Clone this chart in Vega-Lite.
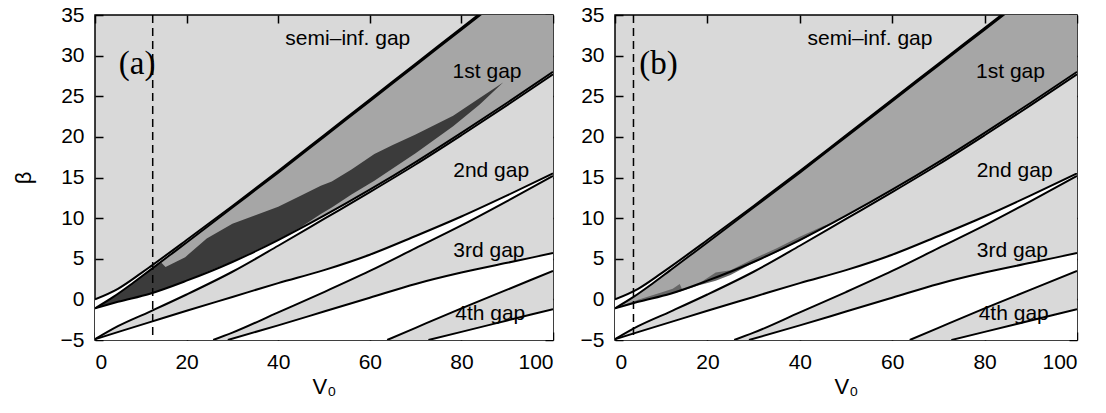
{
  "$schema": "https://vega.github.io/schema/vega-lite/v6.json",
  "background": "white",
  "padding": {"left": 11, "right": 4, "top": 3, "bottom": 3},
  "spacing": 62,
  "bounds": "flush",
  "datasets": {
    "bands": [
      {"line": "A", "V0": 0, "beta": 0}, {"line": "A", "V0": 5, "beta": 1.3}, {"line": "A", "V0": 10, "beta": 3.2}, {"line": "A", "V0": 12, "beta": 4.0}, {"line": "A", "V0": 20, "beta": 7.3}, {"line": "A", "V0": 30, "beta": 11.5}, {"line": "A", "V0": 40, "beta": 15.8}, {"line": "A", "V0": 50, "beta": 20.2}, {"line": "A", "V0": 60, "beta": 24.6}, {"line": "A", "V0": 70, "beta": 29.0}, {"line": "A", "V0": 80, "beta": 33.4}, {"line": "A", "V0": 90, "beta": 37.8}, {"line": "A", "V0": 100, "beta": 42.3},
      {"line": "B", "V0": 0, "beta": -1.1}, {"line": "B", "V0": 4, "beta": 0.3}, {"line": "B", "V0": 8, "beta": 1.9}, {"line": "B", "V0": 12, "beta": 3.6}, {"line": "B", "V0": 16, "beta": 5.3}, {"line": "B", "V0": 20, "beta": 7.0}, {"line": "B", "V0": 30, "beta": 11.3}, {"line": "B", "V0": 40, "beta": 15.6}, {"line": "B", "V0": 50, "beta": 20.0}, {"line": "B", "V0": 60, "beta": 24.4}, {"line": "B", "V0": 70, "beta": 28.8}, {"line": "B", "V0": 80, "beta": 33.2}, {"line": "B", "V0": 90, "beta": 37.6}, {"line": "B", "V0": 100, "beta": 42.1},
      {"line": "C", "V0": 0, "beta": -1.1}, {"line": "C", "V0": 5, "beta": -0.3}, {"line": "C", "V0": 12, "beta": 0.7}, {"line": "C", "V0": 20, "beta": 2.3}, {"line": "C", "V0": 30, "beta": 4.6}, {"line": "C", "V0": 40, "beta": 7.3}, {"line": "C", "V0": 50, "beta": 10.3}, {"line": "C", "V0": 60, "beta": 13.5}, {"line": "C", "V0": 70, "beta": 16.9}, {"line": "C", "V0": 80, "beta": 20.5}, {"line": "C", "V0": 90, "beta": 24.2}, {"line": "C", "V0": 100, "beta": 28.0},
      {"line": "D", "V0": 0, "beta": -4.9}, {"line": "D", "V0": 5, "beta": -3.3}, {"line": "D", "V0": 12, "beta": -1.5}, {"line": "D", "V0": 20, "beta": 0.6}, {"line": "D", "V0": 30, "beta": 3.4}, {"line": "D", "V0": 40, "beta": 6.6}, {"line": "D", "V0": 50, "beta": 9.9}, {"line": "D", "V0": 60, "beta": 13.2}, {"line": "D", "V0": 70, "beta": 16.6}, {"line": "D", "V0": 80, "beta": 20.2}, {"line": "D", "V0": 90, "beta": 23.9}, {"line": "D", "V0": 100, "beta": 27.7},
      {"line": "E", "V0": 0, "beta": -4.9}, {"line": "E", "V0": 12, "beta": -2.8}, {"line": "E", "V0": 20, "beta": -1.4}, {"line": "E", "V0": 30, "beta": 0.3}, {"line": "E", "V0": 40, "beta": 2.0}, {"line": "E", "V0": 50, "beta": 3.6}, {"line": "E", "V0": 60, "beta": 5.5}, {"line": "E", "V0": 70, "beta": 7.8}, {"line": "E", "V0": 80, "beta": 10.2}, {"line": "E", "V0": 90, "beta": 12.8}, {"line": "E", "V0": 100, "beta": 15.5},
      {"line": "F", "V0": 25.8, "beta": -5}, {"line": "F", "V0": 30, "beta": -4.1}, {"line": "F", "V0": 40, "beta": -1.6}, {"line": "F", "V0": 50, "beta": 0.9}, {"line": "F", "V0": 60, "beta": 3.5}, {"line": "F", "V0": 70, "beta": 6.3}, {"line": "F", "V0": 80, "beta": 9.1}, {"line": "F", "V0": 90, "beta": 12.1}, {"line": "F", "V0": 100, "beta": 15.2},
      {"line": "G", "V0": 29, "beta": -5}, {"line": "G", "V0": 40, "beta": -3.2}, {"line": "G", "V0": 50, "beta": -1.5}, {"line": "G", "V0": 60, "beta": 0.2}, {"line": "G", "V0": 70, "beta": 1.9}, {"line": "G", "V0": 80, "beta": 3.3}, {"line": "G", "V0": 90, "beta": 4.5}, {"line": "G", "V0": 100, "beta": 5.7},
      {"line": "H", "V0": 63.8, "beta": -5}, {"line": "H", "V0": 70, "beta": -3.5}, {"line": "H", "V0": 80, "beta": -1.1}, {"line": "H", "V0": 90, "beta": 1.2}, {"line": "H", "V0": 100, "beta": 3.5},
      {"line": "I", "V0": 72.8, "beta": -5}, {"line": "I", "V0": 80, "beta": -4.0}, {"line": "I", "V0": 90, "beta": -2.6}, {"line": "I", "V0": 100, "beta": -1.2}
    ],
    "stableA": [
      {"V0": 0, "top": -1.1, "bottom": -1.1}, {"V0": 3, "top": -0.05, "bottom": -0.65}, {"V0": 6, "top": 1.1, "bottom": -0.15}, {"V0": 10, "top": 2.75, "bottom": 0.4}, {"V0": 13, "top": 4.0, "bottom": 0.85}, {"V0": 14.5, "top": 4.5, "bottom": 1.1}, {"V0": 15.4, "top": 4.0, "bottom": 1.3}, {"V0": 19.7, "top": 5.2, "bottom": 2.2}, {"V0": 24.4, "top": 7.5, "bottom": 3.4}, {"V0": 30, "top": 9.3, "bottom": 4.65}, {"V0": 40, "top": 11.4, "bottom": 7.35}, {"V0": 45, "top": 12.8, "bottom": 8.9}, {"V0": 49.3, "top": 14.0, "bottom": 10.5}, {"V0": 51.7, "top": 14.5, "bottom": 11.3}, {"V0": 56, "top": 16.0, "bottom": 12.9}, {"V0": 61, "top": 17.9, "bottom": 14.6}, {"V0": 65, "top": 19.0, "bottom": 16.1}, {"V0": 70, "top": 20.3, "bottom": 18.0}, {"V0": 78.2, "top": 22.6, "bottom": 21.3}, {"V0": 84, "top": 24.8, "bottom": 24.0}, {"V0": 89.1, "top": 26.7, "bottom": 26.7}
    ],
    "stableB": [
      {"V0": 0, "top": -1.1, "bottom": -1.1}, {"V0": 5, "top": -0.05, "bottom": -0.35}, {"V0": 10, "top": 0.85, "bottom": 0.4}, {"V0": 12.5, "top": 1.3, "bottom": 0.8}, {"V0": 14, "top": 1.9, "bottom": 0.95}, {"V0": 14.6, "top": 1.15, "bottom": 1.05}, {"V0": 18, "top": 1.9, "bottom": 1.7}, {"V0": 21.8, "top": 3.3, "bottom": 2.3}, {"V0": 25, "top": 3.6, "bottom": 3.0}, {"V0": 30, "top": 5.0, "bottom": 4.5}, {"V0": 35, "top": 6.3, "bottom": 5.8}, {"V0": 40, "top": 7.7, "bottom": 7.2}, {"V0": 45, "top": 9.0, "bottom": 8.75}, {"V0": 48, "top": 9.6, "bottom": 9.6}
    ],
    "gaplabels": [
      {"V0": 55.2, "beta": 32.0, "text": "semi–inf. gap"},
      {"V0": 85.6, "beta": 28.0, "text": "1st gap"},
      {"V0": 86.5, "beta": 15.8, "text": "2nd gap"},
      {"V0": 86.0, "beta": 6.0, "text": "3rd gap"},
      {"V0": 86.3, "beta": -1.8, "text": "4th gap"}
    ],
    "panels": [
      {"panel": "a", "V0": 9.2, "beta": 29.0, "text": "(a)", "dash": 12.6},
      {"panel": "b", "V0": 9.4, "beta": 29.0, "text": "(b)", "dash": 4}
    ]
  },
  "hconcat": [
    {
      "width": 458, "height": 325,
      "resolve": {"axis": {"x": "independent", "y": "independent"}},
      "layer": [
        {
          "data": {"name": "bands"},
          "mark": {"type": "area", "clip": true, "interpolate": "monotone"},
          "encoding": {
            "x": {"field": "V0", "type": "quantitative", "scale": {"domain": [0, 100], "nice": false}, "axis": {"orient": "bottom", "values": [0, 20, 40, 60, 80, 100], "title": "V₀"}},
            "y": {"field": "beta", "type": "quantitative", "stack": null, "scale": {"domain": [-5, 35], "nice": false}, "axis": {"orient": "left", "values": [-5, 0, 5, 10, 15, 20, 25, 30, 35], "title": "β", "titlePadding": 25}},
            "y2": {"datum": -5},
            "color": {"field": "line", "type": "nominal", "legend": null, "scale": {"domain": ["A", "B", "C", "D", "E", "F", "G", "H", "I"], "range": ["#ffffff", "#a6a6a6", "#ffffff", "#d9d9d9", "#ffffff", "#d9d9d9", "#ffffff", "#d9d9d9", "#ffffff"]}}
          }
        },
        {
          "data": {"name": "stableA"},
          "mark": {"type": "area", "clip": true, "color": "#3b3b3b"},
          "encoding": {
            "x": {"field": "V0", "type": "quantitative", "axis": null},
            "y": {"field": "top", "type": "quantitative", "axis": null},
            "y2": {"field": "bottom"}
          }
        },
        {
          "data": {"name": "bands"},
          "mark": {"type": "line", "clip": true, "interpolate": "monotone", "color": "black", "strokeWidth": 2},
          "encoding": {
            "x": {"field": "V0", "type": "quantitative", "axis": null},
            "y": {"field": "beta", "type": "quantitative", "axis": null},
            "detail": {"field": "line"}
          }
        },
        {
          "data": {"name": "panels"},
          "transform": [{"filter": "datum.panel == 'a'"}],
          "mark": {"type": "rule", "color": "black", "strokeWidth": 1.5, "strokeDash": [8, 5]},
          "encoding": {
            "x": {"field": "dash", "type": "quantitative", "axis": null}
          }
        },
        {
          "data": {"name": "gaplabels"},
          "mark": {"type": "text", "font": "Liberation Sans", "fontSize": 21, "color": "black", "baseline": "middle", "align": "center"},
          "encoding": {
            "x": {"field": "V0", "type": "quantitative", "axis": null},
            "y": {"field": "beta", "type": "quantitative", "axis": null},
            "text": {"field": "text"}
          }
        },
        {
          "data": {"name": "panels"},
          "transform": [{"filter": "datum.panel == 'a'"}],
          "mark": {"type": "text", "font": "Liberation Serif", "fontSize": 33, "color": "black", "baseline": "middle", "align": "center"},
          "encoding": {
            "x": {"field": "V0", "type": "quantitative", "axis": null},
            "y": {"field": "beta", "type": "quantitative", "axis": null},
            "text": {"field": "text"}
          }
        },
        {
          "data": {"name": "bands"},
          "mark": {"type": "point", "opacity": 0, "clip": true},
          "encoding": {
            "x": {"field": "V0", "type": "quantitative", "axis": {"orient": "top", "values": [0, 20, 40, 60, 80, 100], "labels": false, "title": null}},
            "y": {"field": "beta", "type": "quantitative", "axis": {"orient": "right", "values": [-5, 0, 5, 10, 15, 20, 25, 30, 35], "labels": false, "title": null}}
          }
        }
      ]
    },
    {
      "width": 462, "height": 325,
      "resolve": {"axis": {"x": "independent", "y": "independent"}},
      "layer": [
        {
          "data": {"name": "bands"},
          "mark": {"type": "area", "clip": true, "interpolate": "monotone"},
          "encoding": {
            "x": {"field": "V0", "type": "quantitative", "scale": {"domain": [0, 100], "nice": false}, "axis": {"orient": "bottom", "values": [0, 20, 40, 60, 80, 100], "title": "V₀"}},
            "y": {"field": "beta", "type": "quantitative", "stack": null, "scale": {"domain": [-5, 35], "nice": false}, "axis": {"orient": "left", "values": [-5, 0, 5, 10, 15, 20, 25, 30, 35], "title": null}},
            "y2": {"datum": -5},
            "color": {"field": "line", "type": "nominal", "legend": null, "scale": {"domain": ["A", "B", "C", "D", "E", "F", "G", "H", "I"], "range": ["#ffffff", "#a6a6a6", "#ffffff", "#d9d9d9", "#ffffff", "#d9d9d9", "#ffffff", "#d9d9d9", "#ffffff"]}}
          }
        },
        {
          "data": {"name": "stableB"},
          "mark": {"type": "area", "clip": true, "color": "#666666"},
          "encoding": {
            "x": {"field": "V0", "type": "quantitative", "axis": null},
            "y": {"field": "top", "type": "quantitative", "axis": null},
            "y2": {"field": "bottom"}
          }
        },
        {
          "data": {"name": "bands"},
          "mark": {"type": "line", "clip": true, "interpolate": "monotone", "color": "black", "strokeWidth": 2},
          "encoding": {
            "x": {"field": "V0", "type": "quantitative", "axis": null},
            "y": {"field": "beta", "type": "quantitative", "axis": null},
            "detail": {"field": "line"}
          }
        },
        {
          "data": {"name": "panels"},
          "transform": [{"filter": "datum.panel == 'b'"}],
          "mark": {"type": "rule", "color": "black", "strokeWidth": 1.5, "strokeDash": [8, 5]},
          "encoding": {
            "x": {"field": "dash", "type": "quantitative", "axis": null}
          }
        },
        {
          "data": {"name": "gaplabels"},
          "mark": {"type": "text", "font": "Liberation Sans", "fontSize": 21, "color": "black", "baseline": "middle", "align": "center"},
          "encoding": {
            "x": {"field": "V0", "type": "quantitative", "axis": null},
            "y": {"field": "beta", "type": "quantitative", "axis": null},
            "text": {"field": "text"}
          }
        },
        {
          "data": {"name": "panels"},
          "transform": [{"filter": "datum.panel == 'b'"}],
          "mark": {"type": "text", "font": "Liberation Serif", "fontSize": 33, "color": "black", "baseline": "middle", "align": "center"},
          "encoding": {
            "x": {"field": "V0", "type": "quantitative", "axis": null},
            "y": {"field": "beta", "type": "quantitative", "axis": null},
            "text": {"field": "text"}
          }
        },
        {
          "data": {"name": "bands"},
          "mark": {"type": "point", "opacity": 0, "clip": true},
          "encoding": {
            "x": {"field": "V0", "type": "quantitative", "axis": {"orient": "top", "values": [0, 20, 40, 60, 80, 100], "labels": false, "title": null}},
            "y": {"field": "beta", "type": "quantitative", "axis": {"orient": "right", "values": [-5, 0, 5, 10, 15, 20, 25, 30, 35], "labels": false, "title": null}}
          }
        }
      ]
    }
  ],
  "config": {
    "view": {"fill": "#d9d9d9", "stroke": "black", "strokeWidth": 1.5},
    "axis": {
      "labelFont": "Liberation Sans", "labelFontSize": 21, "labelColor": "black", "labelPadding": 19,
      "tickColor": "black", "tickWidth": 1.5, "tickSize": -8, "domain": false, "grid": false,
      "titleFont": "Liberation Sans", "titleFontSize": 22, "titleColor": "black", "titleFontWeight": "normal",
      "titlePadding": 4
    }
  }
}
